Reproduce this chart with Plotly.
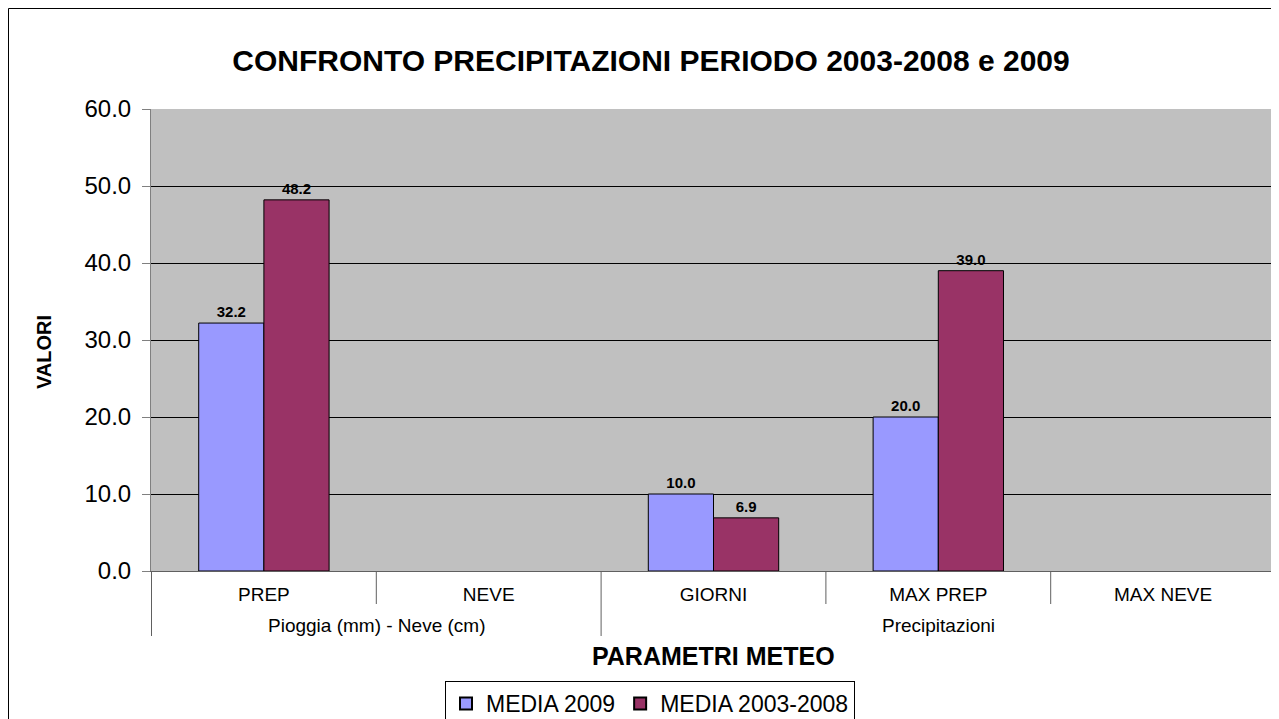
import plotly.graph_objects as go

groups = ["Pioggia (mm) - Neve (cm)", "Pioggia (mm) - Neve (cm)",
          "Precipitazioni", "Precipitazioni", "Precipitazioni"]
params = ["PREP", "NEVE", "GIORNI", "MAX PREP", "MAX NEVE"]
media_2009 = [32.2, None, 10.0, 20.0, None]
media_2003_2008 = [48.2, None, 6.9, 39.0, None]

FONT = "Liberation Sans, Arial, sans-serif"
W, H = 1271, 711
L, R, T, B = 143, 3, 101, 148
pw, ph = W - L - R, H - T - B


def px_y(dy):  # pixels below the x axis -> paper y
    return -dy / ph


fig = go.Figure()
for name, vals, col in [("MEDIA 2009", media_2009, "#9999FF"),
                        ("MEDIA 2003-2008", media_2003_2008, "#993366")]:
    fig.add_trace(go.Bar(
        x=params, y=vals, name=name,
        marker=dict(color=col, line=dict(color="#000000", width=1)),
        text=[f"<b>{v:.1f}</b>" if v is not None else "" for v in vals],
        textposition="outside", cliponaxis=False,
        textfont=dict(family=FONT, size=15, color="#000000"),
    ))

fig.update_layout(
    width=W, height=H,
    margin=dict(l=L, r=R, t=T, b=B, autoexpand=False),
    paper_bgcolor="#FFFFFF", plot_bgcolor="#C0C0C0",
    font=dict(family=FONT, color="#000000"),
    barmode="group", bargap=0.42, bargroupgap=0,
    title=dict(text="<b>CONFRONTO PRECIPITAZIONI PERIODO 2003-2008 e 2009</b>",
               x=643 / W, xref="container", xanchor="center",
               y=1 - 52 / H, yanchor="middle", yref="container",
               font=dict(size=30, color="#000000")),
    showlegend=True,
    legend=dict(orientation="h", x=(642 - L) / pw, xanchor="center",
                y=px_y(110), yanchor="top",
                bordercolor="#000000", borderwidth=1, bgcolor="#FFFFFF",
                font=dict(size=23), tracegroupgap=0,
                itemsizing="constant"),
)

fig.update_yaxes(
    range=[0, 60], dtick=10, tickformat=".1f",
    showgrid=True, gridcolor="#000000", gridwidth=1,
    showline=True, linecolor="#808080", linewidth=1,
    ticks="outside", ticklen=8, tickcolor="#808080",
    tickfont=dict(size=24), zeroline=False, ticklabelstandoff=6,
)
fig.update_xaxes(
    type="category",
    showline=True, linecolor="#606060", linewidth=1,
    ticks="", tickfont=dict(size=19), ticklabelstandoff=6,
)

# y axis title
fig.add_annotation(text="<b>VALORI</b>", xref="paper", yref="paper",
                   x=(36 - L) / pw, y=(563 - 344) / ph, textangle=-90,
                   showarrow=False, font=dict(size=20),
                   xanchor="center", yanchor="middle")
# x axis title
fig.add_annotation(text="<b>PARAMETRI METEO</b>", xref="paper", yref="paper",
                   x=0.5, y=px_y(85), showarrow=False, font=dict(size=25),
                   xanchor="center", yanchor="middle")

# category dividers and group labels
n = len(params)
for i in range(n + 1):
    is_group_edge = (i == 0 or i == n or groups[i] != groups[i - 1])
    fig.add_shape(type="line", xref="x", yref="paper",
                  x0=i - 0.5, x1=i - 0.5, y0=0,
                  y1=px_y(65 if is_group_edge else 33),
                  line=dict(color="#606060", width=1))
start = 0
for i in range(1, n + 1):
    if i == n or groups[i] != groups[start]:
        fig.add_annotation(text=groups[start], xref="x", yref="paper",
                           x=(start + i - 1) / 2, y=px_y(54),
                           showarrow=False, font=dict(size=19),
                           xanchor="center", yanchor="middle")
        start = i

# outer chart border
fig.add_shape(type="rect", xref="paper", yref="paper",
              x0=-(L - 0.5) / pw, x1=1 + (R + 5) / pw,
              y0=-(B + 5) / ph, y1=1 + (T - 0.5) / ph,
              line=dict(color="#000000", width=1), fillcolor="rgba(0,0,0,0)",
              layer="below")

fig.write_html("out.html")
